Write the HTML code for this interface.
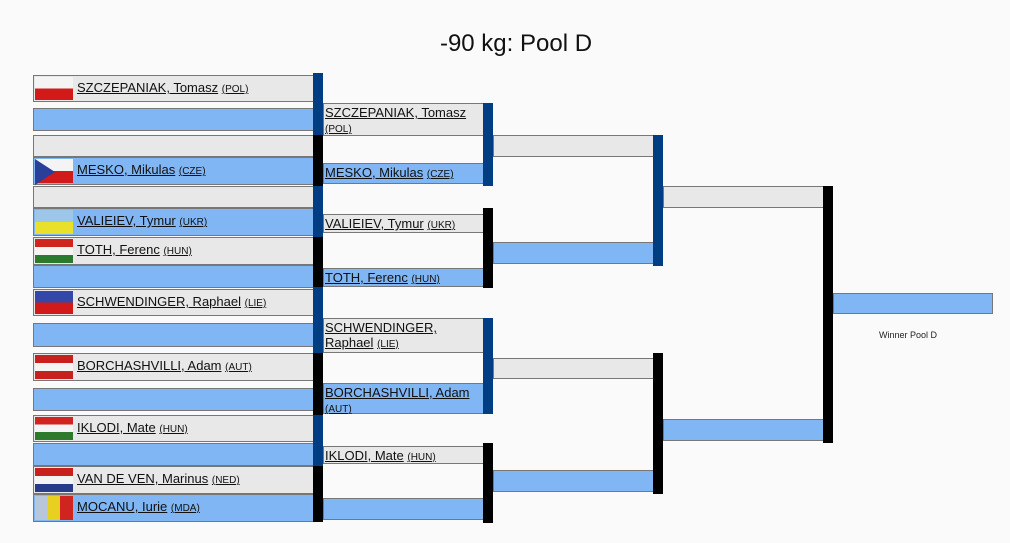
<!DOCTYPE html>
<html><head><meta charset="utf-8"><style>
body{margin:0;width:1010px;height:543px;background:#fafafa;font-family:"Liberation Sans",Arial,sans-serif;position:relative;overflow:hidden}
.b{position:absolute;box-sizing:border-box;border:1px solid #777;font-size:13px;line-height:15px;color:#111}
.g{background:#e8e8e8}.u{background:#80b6f4}
.b span.n{text-decoration:underline}
.b small{font-size:10px;text-decoration:underline}
.bar{position:absolute;width:10px}
.k{background:#000}.d{background:#003d82}
.f{position:absolute;left:1px;top:1px;width:38px;bottom:1px}
.t1{padding:4px 0 0 43px}
.t2{padding:1px 0 0 1px}
</style></head><body>
<div style="position:absolute;left:0;width:1032px;top:30px;text-align:center;font-size:24px;color:#111">-90 kg: Pool D</div>

<div class="b g t1" style="left:33px;top:75px;width:281px;height:27px"><div class="f" style="background:linear-gradient(#f4f4f4 50%,#d21a1a 50%)"></div><span class="n">SZCZEPANIAK, Tomasz</span> <small>(POL)</small></div>
<div class="b u" style="left:33px;top:108px;width:281px;height:23px"></div>
<div class="b g" style="left:33px;top:135px;width:281px;height:22px"></div>
<div class="b u t1" style="left:33px;top:157px;width:281px;height:28px"><div class="f" style="background:linear-gradient(#f4f4f4 50%,#d21a1a 50%)"><div style="position:absolute;left:0;top:0;border-left:20px solid #2a3f9a;border-top:13px solid transparent;border-bottom:13px solid transparent"></div></div><span class="n">MESKO, Mikulas</span> <small>(CZE)</small></div>
<div class="b g" style="left:33px;top:186px;width:281px;height:22px"></div>
<div class="b u t1" style="left:33px;top:208px;width:281px;height:28px"><div class="f" style="background:linear-gradient(#9cc7e8 50%,#e8e02a 50%)"></div><span class="n">VALIEIEV, Tymur</span> <small>(UKR)</small></div>
<div class="b g t1" style="left:33px;top:237px;width:281px;height:28px"><div class="f" style="background:linear-gradient(#d0251e 33%,#f4f4f4 33%,#f4f4f4 66%,#2d7a2d 66%)"></div><span class="n">TOTH, Ferenc</span> <small>(HUN)</small></div>
<div class="b u" style="left:33px;top:265px;width:281px;height:23px"></div>
<div class="b g t1" style="left:33px;top:289px;width:281px;height:27px"><div class="f" style="background:linear-gradient(#3348a8 50%,#d21a1a 50%)"></div><span class="n">SCHWENDINGER, Raphael</span> <small>(LIE)</small></div>
<div class="b u" style="left:33px;top:323px;width:281px;height:24px"></div>
<div class="b g t1" style="left:33px;top:353px;width:281px;height:28px"><div class="f" style="background:linear-gradient(#c8201c 33%,#f4f4f4 33%,#f4f4f4 66%,#c8201c 66%)"></div><span class="n">BORCHASHVILLI, Adam</span> <small>(AUT)</small></div>
<div class="b u" style="left:33px;top:388px;width:281px;height:23px"></div>
<div class="b g t1" style="left:33px;top:415px;width:281px;height:27px"><div class="f" style="background:linear-gradient(#d0251e 33%,#f4f4f4 33%,#f4f4f4 66%,#2d7a2d 66%)"></div><span class="n">IKLODI, Mate</span> <small>(HUN)</small></div>
<div class="b u" style="left:33px;top:443px;width:281px;height:23px"></div>
<div class="b g t1" style="left:33px;top:466px;width:281px;height:28px"><div class="f" style="background:linear-gradient(#c8201c 33%,#f4f4f4 33%,#f4f4f4 66%,#283a8a 66%)"></div><span class="n">VAN DE VEN, Marinus</span> <small>(NED)</small></div>
<div class="b u t1" style="left:33px;top:494px;width:281px;height:28px"><div class="f" style="background:linear-gradient(90deg,#b8c6dc 33%,#e8d020 33%,#e8d020 66%,#d0251e 66%)"></div><span class="n">MOCANU, Iurie</span> <small>(MDA)</small></div>

<div class="bar d" style="left:313px;top:73px;height:62px"></div>
<div class="bar k" style="left:313px;top:135px;height:51px"></div>
<div class="bar d" style="left:313px;top:186px;height:51px"></div>
<div class="bar k" style="left:313px;top:237px;height:50px"></div>
<div class="bar d" style="left:313px;top:287px;height:66px"></div>
<div class="bar k" style="left:313px;top:353px;height:62px"></div>
<div class="bar d" style="left:313px;top:415px;height:51px"></div>
<div class="bar k" style="left:313px;top:466px;height:56px"></div>

<div class="b g t2" style="left:323px;top:103px;width:161px;height:33px"><span class="n">SZCZEPANIAK, Tomasz</span><br><small>(POL)</small></div>
<div class="b u t2" style="left:323px;top:163px;width:161px;height:21px"><span class="n">MESKO, Mikulas</span> <small>(CZE)</small></div>
<div class="b g t2" style="left:323px;top:214px;width:161px;height:19px"><span class="n">VALIEIEV, Tymur</span> <small>(UKR)</small></div>
<div class="b u t2" style="left:323px;top:268px;width:161px;height:19px"><span class="n">TOTH, Ferenc</span> <small>(HUN)</small></div>
<div class="b g t2" style="left:323px;top:318px;width:161px;height:35px"><span class="n">SCHWENDINGER,</span><br><span class="n">Raphael</span> <small>(LIE)</small></div>
<div class="b u t2" style="left:323px;top:383px;width:161px;height:31px"><span class="n">BORCHASHVILLI, Adam</span><br><small>(AUT)</small></div>
<div class="b g t2" style="left:323px;top:446px;width:161px;height:18px"><span class="n">IKLODI, Mate</span> <small>(HUN)</small></div>
<div class="b u" style="left:323px;top:498px;width:161px;height:22px"></div>

<div class="bar d" style="left:483px;top:103px;height:83px"></div>
<div class="bar k" style="left:483px;top:208px;height:80px"></div>
<div class="bar d" style="left:483px;top:318px;height:96px"></div>
<div class="bar k" style="left:483px;top:443px;height:80px"></div>

<div class="b g" style="left:493px;top:135px;width:161px;height:22px"></div>
<div class="b u" style="left:493px;top:242px;width:161px;height:22px"></div>
<div class="b g" style="left:493px;top:358px;width:161px;height:21px"></div>
<div class="b u" style="left:493px;top:470px;width:161px;height:22px"></div>
<div class="bar d" style="left:653px;top:135px;height:131px"></div>
<div class="bar k" style="left:653px;top:353px;height:141px"></div>

<div class="b g" style="left:663px;top:186px;width:161px;height:22px"></div>
<div class="b u" style="left:663px;top:419px;width:161px;height:22px"></div>
<div class="bar k" style="left:823px;top:186px;height:257px"></div>

<div class="b u" style="left:833px;top:293px;width:160px;height:21px"></div>
<div style="position:absolute;left:879px;top:330px;font-size:9px;color:#222">Winner Pool D</div>
</body></html>
